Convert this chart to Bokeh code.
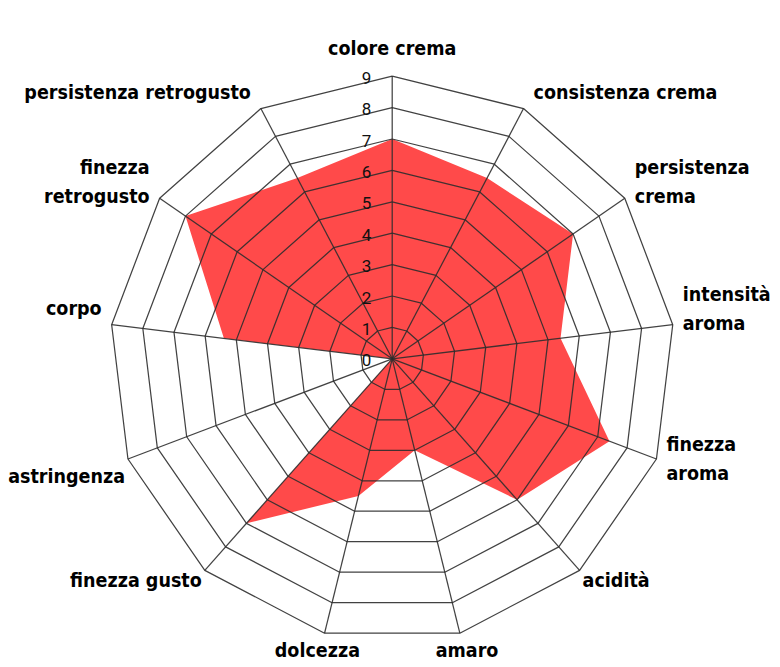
import math
from bokeh.plotting import figure
from bokeh.models import Range1d
from bokeh.core.properties import value
from bokeh.embed import file_html
from bokeh.resources import INLINE

categories = ["colore crema", "consistenza crema", "persistenza\ncrema", "intensità\naroma",
              "finezza\naroma", "acidità", "amaro", "dolcezza", "finezza gusto",
              "astringenza", "corpo", "finezza\nretrogusto", "persistenza retrogusto"]
scores = [7, 6.5, 7, 5.4, 7.4, 6, 3, 4.5, 7, 0, 5.4, 8, 6.5]
tick_values = [0, 1, 2, 3, 4, 5, 6, 7, 8, 9]
tick_labels = ["0", "1", "2", "3", "4", "5", "6", "7", "8", "9"]

W, H = 776, 664
OX, OY = 0, 0              # canvas origin on the page
CX, CY = 391.7, 358.3      # centre on the page (px)
S = 31.4                   # px per unit
RMAX = tick_values[-1]

p = figure(width=W, height=H, output_backend="svg", toolbar_location=None,
           min_border=0, outline_line_color=None, background_fill_color="white")
p.x_range = Range1d((OX - CX) / S, (OX + W - CX) / S)
top = (CY - OY) / S
p.y_range = Range1d(top - H / S, top)
p.axis.visible = False
p.grid.visible = False

n = len(categories)
ang = [2 * math.pi * i / n for i in range(n)]
ux = [math.sin(a) for a in ang]
uy = [math.cos(a) for a in ang]

# filled data polygon
px = [v * ux[i] for i, v in enumerate(scores)]
py = [v * uy[i] for i, v in enumerate(scores)]
p.patch(px, py, fill_color="#FF4A4A", fill_alpha=1.0, line_color=None)

# rings
rxs, rys = [], []
for k in tick_values[1:]:
    rxs.append([k * ux[i % n] for i in range(n + 1)])
    rys.append([k * uy[i % n] for i in range(n + 1)])
p.multi_line(rxs, rys, line_color="#2e2e2e", line_width=1.25, line_alpha=0.9)

# spokes
sxs = [[0, RMAX * ux[i]] for i in range(n)]
sys_ = [[0, RMAX * uy[i]] for i in range(n)]
p.multi_line(sxs, sys_, line_color="#2e2e2e", line_width=1.25, line_alpha=0.9)

# tick labels
p.text(x=[-21 / S] * len(tick_values), y=[t - 1.5 / S for t in tick_values], text=tick_labels,
       text_font=value("Roboto"), text_font_size="17px", text_color="#111111",
       text_align="right", text_baseline="middle")

# category labels
for i, lab in enumerate(categories):
    vx, vy = RMAX * ux[i], RMAX * uy[i]
    two = "\n" in lab
    if abs(ux[i]) < 0.1:
        align, base = "center", "bottom"
        lx, ly = vx, vy + 16 / S
    elif abs(ux[i]) < 0.3:
        align, base = "center", "middle"
        lx, ly = vx + ux[i] * 30 / S, vy - 17 / S
    else:
        align = "left" if ux[i] > 0 else "right"
        base = "middle"
        gap = 3 if (uy[i] < 0 and not two) else 10
        lx = vx + (gap if ux[i] > 0 else -gap) / S
        if uy[i] > 0:
            dy = 16
        elif two:
            dy = 0
        elif abs(ux[i]) > 0.9:
            dy = -17
        else:
            dy = -10
        ly = vy + dy / S
    p.text(x=[lx], y=[ly], text=[lab], text_font=value("DejaVu Sans Condensed"),
           text_font_style="bold", text_font_size="19.5px", text_color="black",
           text_align=align, text_baseline=base, text_line_height=1.25)

open("out.html", "w").write(file_html(p, INLINE))
